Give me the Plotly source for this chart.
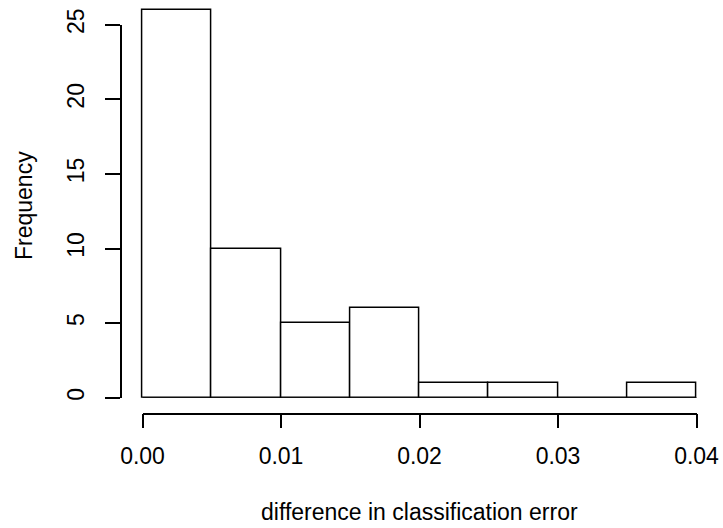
import plotly.graph_objects as go

# ---- data ----
breaks = [0.000, 0.005, 0.010, 0.015, 0.020, 0.025, 0.030, 0.035, 0.040]
counts = [26, 10, 5, 6, 1, 1, 0, 1]
x_ticks = [0.00, 0.01, 0.02, 0.03, 0.04]
y_ticks = [0, 5, 10, 15, 20, 25]
x_title = "difference in classification error"
y_title = "Frequency"

# ---- layout geometry (page pixels in a 723x528 window) ----
W, H = 723, 528
FONT = "Liberation Sans, Arial, Helvetica, sans-serif"
FS = 23

# plot region (R style: data range extended by 4%)
x_lo, x_hi = breaks[0], breaks[-1]
x_pad = 0.04 * (x_hi - x_lo)
px_x0, px_x1 = 142.5, 696.5            # pixel of x=0 and x=0.04
sx = (px_x1 - px_x0) / (x_hi - x_lo)
reg_left = px_x0 - x_pad * sx
reg_right = px_x1 + x_pad * sx

px_y0 = 397.7                           # pixel of y=0
py_per = 14.92                          # pixels per count
y_axis_top = y_ticks[-1]

def fx(p):
    return p / W

def fy(p):
    return 1 - p / H

mids = [(a + b) / 2 for a, b in zip(breaks[:-1], breaks[1:])]
widths = [b - a for a, b in zip(breaks[:-1], breaks[1:])]

fig = go.Figure()
# baseline under all bins (R draws empty bins as a flat line)
fig.add_trace(go.Scatter(
    x=[breaks[0], breaks[-1]], y=[0, 0], mode="lines",
    line=dict(color="black", width=1.5),
    xaxis="x", yaxis="y", showlegend=False, hoverinfo="skip",
))
fig.add_trace(go.Bar(
    x=mids, y=counts, width=widths,
    marker=dict(color="white", line=dict(color="black", width=1.5)),
    xaxis="x", yaxis="y", showlegend=False, hoverinfo="x+y",
))
# invisible trace so the visible R-style axes get drawn
fig.add_trace(go.Scatter(x=[None], y=[None], xaxis="x2", yaxis="y2",
                         showlegend=False, hoverinfo="skip"))

axis_common = dict(showgrid=False, zeroline=False, showline=True,
                   linecolor="black", linewidth=1.5, ticks="outside",
                   tickcolor="black", tickwidth=1.5, automargin=False,
                   tickfont=dict(family=FONT, size=FS, color="black"),
                   fixedrange=True)

fig.update_layout(
    template="none",
    width=W, height=H,
    margin=dict(l=0, r=0, t=0, b=0, pad=0),
    paper_bgcolor="white", plot_bgcolor="rgba(0,0,0,0)",
    font=dict(family=FONT, size=FS, color="black"),
    bargap=0,
    xaxis=dict(domain=[fx(reg_left), fx(reg_right)],
               range=[x_lo - x_pad, x_hi + x_pad], automargin=False,
               visible=False, fixedrange=True, anchor="y"),
    yaxis=dict(domain=[fy(px_y0), 1], range=[0, px_y0 / py_per],
               automargin=False,
               visible=False, fixedrange=True, anchor="x"),
    xaxis2=dict(domain=[fx(px_x0), fx(px_x1)], range=[x_lo, x_hi],
                anchor="free", position=fy(413.5), side="bottom",
                tickvals=x_ticks, tickformat=".2f", ticklen=14,
                ticklabelstandoff=8,
                **axis_common),
    yaxis2=dict(domain=[fy(px_y0), fy(px_y0 - y_axis_top * py_per)],
                range=[0, y_axis_top], anchor="free", position=fx(121),
                side="left", tickvals=y_ticks, tickangle=-90, ticklen=15,
                ticklabelstandoff=12,
                **axis_common),
    annotations=[
        dict(text=x_title, xref="paper", yref="paper",
             x=fx((reg_left + reg_right) / 2), y=fy(512),
             xanchor="center", yanchor="middle", showarrow=False,
             font=dict(family=FONT, size=FS, color="black")),
        dict(text=y_title, xref="paper", yref="paper",
             x=fx(24), y=fy(206), textangle=-90,
             xanchor="center", yanchor="middle", showarrow=False,
             font=dict(family=FONT, size=FS, color="black")),
    ],
)

fig.write_html("out.html",
               config={"displayModeBar": False, "staticPlot": False},
               post_script="document.body.style.margin='0';"
                           "document.body.style.overflow='hidden';")
